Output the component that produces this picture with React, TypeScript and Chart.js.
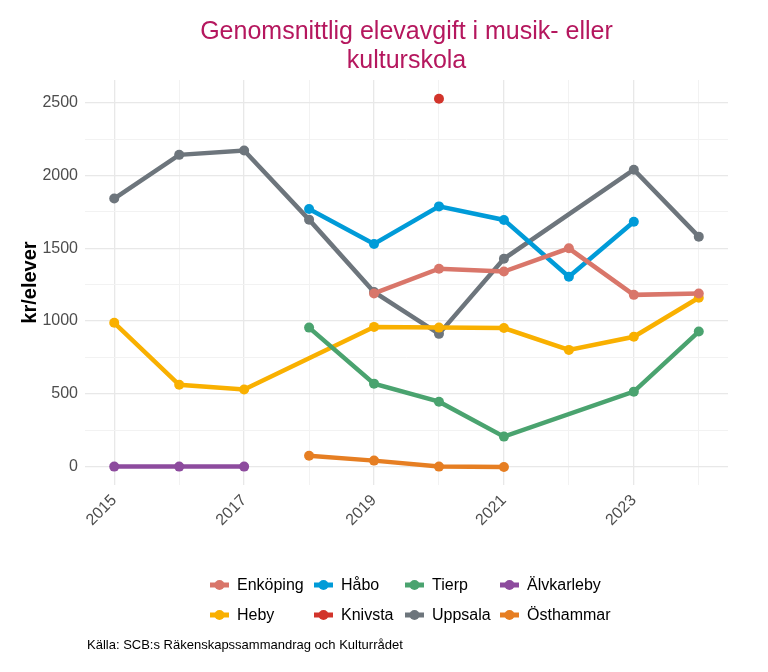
import React, { useEffect, useRef } from "react";
import { Chart, registerables } from "chart.js";

Chart.register(...registerables);

const years = [2015, 2016, 2017, 2018, 2019, 2020, 2021, 2022, 2023, 2024];
const labelYears = [2015, 2017, 2019, 2021, 2023];
const yTicks = [0, 500, 1000, 1500, 2000, 2500];

const enkoping = [null, null, null, null, 1190, 1360, 1340, 1500, 1180, 1190];
const habo = [null, null, null, 1770, 1530, 1788, 1695, 1305, 1682, null];
const tierp = [null, null, null, 955, 570, 446, 206, null, 515, 928];
const alvkarleby = [0, 0, 0, null, null, null, null, null, null, null];
const heby = [988, 562, 530, null, 960, 955, 952, 802, 892, 1160];
const knivsta = [null, null, null, null, null, 2528, null, null, null, null];
const uppsala = [1842, 2142, 2172, 1697, 1200, 912, 1428, null, 2040, 1580];
const osthammar = [null, null, null, 75, 41, 0, -3, null, null, null];

const seriesNames = ["Enköping", "Håbo", "Tierp", "Älvkarleby", "Heby", "Knivsta", "Uppsala", "Östhammar"];
const seriesValues = [enkoping, habo, tierp, alvkarleby, heby, knivsta, uppsala, osthammar];
const seriesColors = ["#d9766a", "#009bd8", "#4aa36f", "#8d4b9e", "#f9b000", "#d2342b", "#6d757c", "#e67e22"];

const titleLines = ["Genomsnittlig elevavgift i musik- eller", "kulturskola"];
const caption = "Källa: SCB:s Räkenskapssammandrag och Kulturrådet";
const yTitle = "kr/elever";

const FONT = "'Liberation Sans', Arial, sans-serif";

const decorPlugin = {
  id: "decor",
  afterDraw(chart: any) {
    const ctx = chart.ctx;
    const area = chart.chartArea;
    const cx = (area.left + area.right) / 2;
    ctx.save();
    // title
    ctx.fillStyle = "#b5175e";
    ctx.font = `25px ${FONT}`;
    ctx.textAlign = "center";
    ctx.textBaseline = "alphabetic";
    ctx.fillText(titleLines[0], cx, 39);
    ctx.fillText(titleLines[1], cx, 68);

    // legend grid
    const colX = [210, 314, 405, 500];
    const rowY = [585, 615];
    ctx.font = `16px ${FONT}`;
    ctx.textBaseline = "middle";
    ctx.textAlign = "left";
    chart.data.datasets.forEach((ds: any, i: number) => {
      const col = i % 4;
      const row = Math.floor(i / 4);
      const x = colX[col];
      const y = rowY[row];
      ctx.strokeStyle = ds.borderColor;
      ctx.lineWidth = 5;
      ctx.lineCap = "butt";
      ctx.beginPath();
      ctx.moveTo(x, y);
      ctx.lineTo(x + 19, y);
      ctx.stroke();
      ctx.fillStyle = ds.borderColor;
      ctx.beginPath();
      ctx.arc(x + 9.5, y, 5, 0, Math.PI * 2);
      ctx.fill();
      ctx.fillStyle = "#000000";
      ctx.fillText(ds.label, x + 27, y + 1);
    });

    // caption
    ctx.font = `13px ${FONT}`;
    ctx.fillStyle = "#000000";
    ctx.textBaseline = "middle";
    ctx.fillText(caption, area.left + 2, 645);
    ctx.restore();
  },
};

export default function App() {
  const ref = useRef<HTMLCanvasElement | null>(null);
  useEffect(() => {
    document.body.style.margin = "0";
    const canvas = ref.current;
    if (!canvas) return;
    const datasets = seriesNames.map((name, i) => ({
      label: name,
      data: years
        .map((yr, j) => ({ x: yr, y: seriesValues[i][j] }))
        .filter((p) => p.y !== null),
      borderColor: seriesColors[i],
      backgroundColor: seriesColors[i],
      borderWidth: 4.5,
      pointRadius: 5,
      pointBorderWidth: 0,
      pointHoverRadius: 5,
      showLine: name !== "Knivsta",
      tension: 0,
    }));
    const chart = new Chart(canvas, {
      type: "line",
      data: { datasets },
      plugins: [decorPlugin],
      options: {
        animation: false,
        responsive: false,
        layout: { padding: { left: 0, right: 40, top: 80, bottom: 127 } },
        plugins: {
          legend: { display: false },
          title: { display: false },
          tooltip: { enabled: false },
        },
        scales: {
          x: {
            type: "linear",
            min: 2014.55,
            max: 2024.45,
            afterBuildTicks: (scale: any) => {
              scale.ticks = years.map((v) => ({ value: v }));
            },
            afterFit: (scale: any) => {
              scale.height = 60;
            },
            grid: {
              drawTicks: false,
              color: (c: any) =>
                c.tick && labelYears.includes(c.tick.value) ? "#e8e8e8" : "#f2f2f2",
              lineWidth: (c: any) =>
                c.tick && labelYears.includes(c.tick.value) ? 1.3 : 1,
            },
            border: { display: false },
            ticks: {
              autoSkip: false,
              minRotation: 45,
              maxRotation: 45,
              padding: 6,
              color: "#4d4d4d",
              font: { family: FONT, size: 16 },
              callback: (v: any) => (labelYears.includes(Number(v)) ? String(v) : ""),
            },
          },
          y: {
            type: "linear",
            min: -126.5,
            max: 2656.5,
            afterBuildTicks: (scale: any) => {
              const t = [];
              for (let v = 0; v <= 2500; v += 250) t.push({ value: v });
              scale.ticks = t;
            },
            afterFit: (scale: any) => {
              scale.width = 85;
            },
            grid: {
              drawTicks: false,
              color: (c: any) =>
                c.tick && yTicks.includes(c.tick.value) ? "#e8e8e8" : "#f2f2f2",
              lineWidth: (c: any) =>
                c.tick && yTicks.includes(c.tick.value) ? 1.3 : 1,
            },
            border: { display: false },
            ticks: {
              padding: 7,
              color: "#4d4d4d",
              font: { family: FONT, size: 16 },
              callback: (v: any) => (yTicks.includes(Number(v)) ? String(v) : ""),
            },
            title: {
              display: true,
              text: yTitle,
              color: "#000000",
              font: { family: FONT, size: 20, weight: "bold" },
              padding: { top: 18, bottom: 0 },
            },
          },
        },
      },
    } as any);
    return () => chart.destroy();
  }, []);
  return (
    <div style={{ width: 768, height: 672, background: "#ffffff" }}>
      <canvas ref={ref} width={768} height={672} style={{ display: "block" }} />
    </div>
  );
}
